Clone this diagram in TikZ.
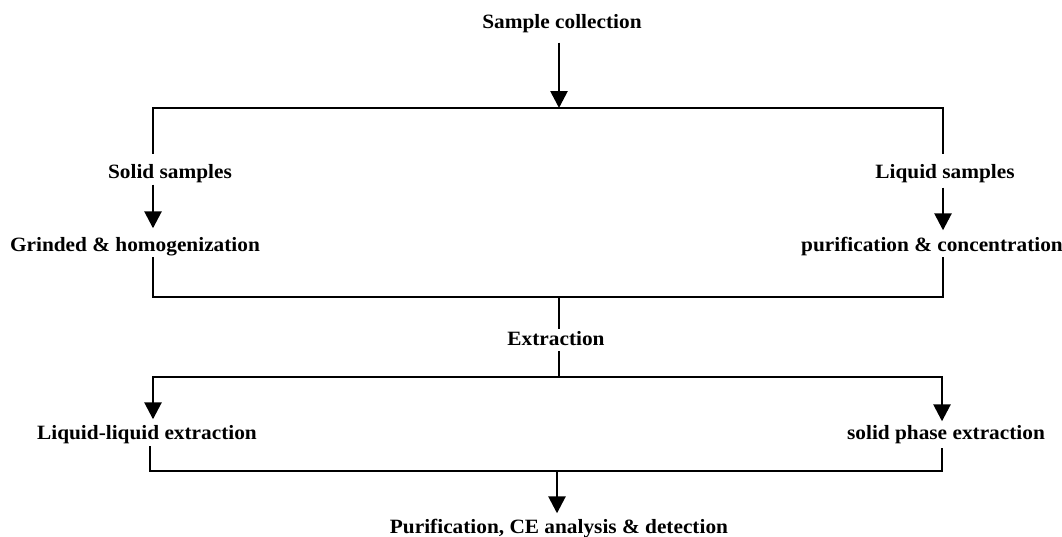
\documentclass[tikz,border=0pt]{standalone}
\usepackage{fontspec}
\setmainfont{Liberation Serif}[FakeStretch=1.05]
\usetikzlibrary{arrows.meta,calc}
\begin{document}
\begin{tikzpicture}[x=1pt,y=1pt,
  lbl/.style={font=\bfseries\fontsize{20.3}{24}\selectfont, text height=14pt, text depth=3pt, inner xsep=0pt, inner ysep=3pt},
  ln/.style={line width=1.8pt, line cap=rect},
  arr/.style={line width=2.7pt, -{Triangle[width=17pt,length=17pt]}}
]
\useasboundingbox (0,0) rectangle (1062,-536);
% nodes
\node[lbl] (sc)  at (562,-23)  {Sample collection};
\node[lbl] (ss)  at (170,-173) {Solid samples};
\node[lbl] (gh)  at (135,-246) {Grinded \& homogenization};
\node[lbl] (ls)  at (945,-173) {Liquid samples};
\node[lbl] (pc)  at (932,-246) {purification \& concentration};
\node[lbl] (ex)  at (556,-340) {Extraction};
\node[lbl] (lle) at (147,-434) {Liquid-liquid extraction};
\node[lbl] (spe) at (946,-434) {solid phase extraction};
\node[lbl] (fin) at (559,-528) {Purification, CE analysis \& detection};
% junction coordinates
\coordinate (t1) at (559,-108);
\coordinate (tl) at (153,-108);
\coordinate (tr) at (943,-108);
\coordinate (ml) at (153,-297);
\coordinate (mr) at (943,-297);
\coordinate (mc) at (559,-297);
\coordinate (el) at (153,-377);
\coordinate (er) at (942,-377);
\coordinate (ec) at (559,-377);
\coordinate (bl) at (150,-471);
\coordinate (br) at (942,-471);
\coordinate (bc) at (557,-471);
% top
\draw[arr] ($(sc.south)+(-3,-8)$) -- (t1);
\draw[ln] ($(tl |- ss.north)+(0,8)$) -- (tl) -- (tr) -- ($(tr |- ls.north)+(0,8)$);
% left branch
\draw[arr] (tl |- ss.south) -- ($(tl |- gh.north)+(0,6)$);
\draw[ln] (tl |- gh.south) -- (ml) -- (mr) -- (tr |- pc.south);
% right branch
\draw[arr] ($(tr |- ls.south)+(0,-3)$) -- ($(tr |- pc.north)+(0,4)$);
% extraction
\draw[ln] (mc) -- (mc |- ex.north);
\draw[ln] (mc |- ex.south) -- (ec);
\draw[ln] (el) -- (er);
\draw[arr] (el) -- ($(el |- lle.north)+(0,3)$);
\draw[arr] (er) -- ($(er |- spe.north)+(0,1)$);
% bottom
\draw[ln] ($(bl |- lle.south)+(0,-1)$) -- (bl) -- (br) -- ($(br |- spe.south)+(0,-3)$);
\draw[arr] (bc) -- ($(bc |- fin.north)+(0,3)$);
\end{tikzpicture}
\end{document}
